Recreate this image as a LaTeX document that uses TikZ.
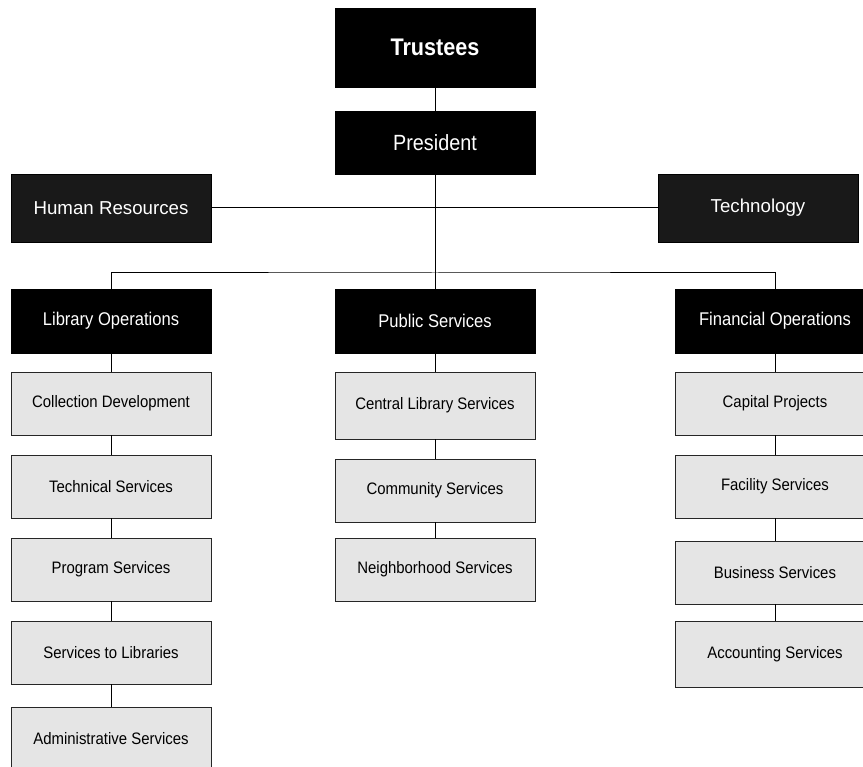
\documentclass[tikz,border=0pt]{standalone}
\usepackage{fontspec}
\setmainfont{Liberation Sans}
\newfontfamily\condfont{Liberation Sans}[FakeStretch=0.9]

\begin{document}
\begin{tikzpicture}[x=1pt, y=-1pt,
  head/.style={draw=black, fill=black, text=white, minimum width=200pt,
    minimum height=64pt, inner sep=0pt, font=\condfont\fontsize{18.4}{21}\selectfont},
  staff/.style={draw=black, fill=black!90, text=white, minimum width=200pt,
    minimum height=68pt, inner sep=0pt, font=\fontsize{18.7}{21}\selectfont},
  unit/.style={draw=black!85, fill=black!10, minimum width=200pt,
    minimum height=63pt, inner sep=0pt, font=\condfont\fontsize{16.6}{19}\selectfont},
  link/.style={line width=1pt}]
 \useasboundingbox (0,0) rectangle (863,767);

 % top of the tree
 \node[head, minimum height=79pt, font=\condfont\fontsize{24}{27}\bfseries\selectfont]
   (trustees) at (435,47.5) {Trustees};
 \node[head, minimum height=63pt, font=\condfont\fontsize{22}{25}\selectfont]
   (president) at (435,142.5) {President};
 \node[staff] (hr) at (111,208) {Human Resources};
 \node[staff] (tech) at (758,208) {Technology};
 \coordinate (bus) at (435,273);

 % divisions
 \node[head] (lib0) at (111,321) {Library Operations};
 \node[head] (pub0) at (435,321) {Public Services};
 \node[head] (fin0) at (775,321) {Financial Operations};

 \foreach \name/\y/\h [count=\i] in {Collection Development/403.5/63,
   Technical Services/486.5/63, Program Services/569.5/63,
   Services to Libraries/652.5/63, Administrative Services/738.5/63}
 {
  \node[unit, minimum height=\h pt] (lib\i) at (111,\y) {\name};
 }
 \foreach \name/\y/\h [count=\i] in {Central Library Services/405.5/67,
   Community Services/490.5/63, Neighborhood Services/569.5/63}
 {
  \node[unit, minimum height=\h pt] (pub\i) at (435,\y) {\name};
 }
 \foreach \name/\y/\h [count=\i] in {Capital Projects/403.5/63,
   Facility Services/486.5/63, Business Services/572.5/63,
   Accounting Services/654/66}
 {
  \node[unit, minimum height=\h pt] (fin\i) at (775,\y) {\name};
 }

 % connectors
 \draw[link] (trustees) -- (president);
 \draw[link] (president) -- (bus);
 \draw[link] (hr) -- (tech);
 \draw[link] (lib0) |- (bus) -| (fin0);
 \draw[link] (bus) -- (pub0);

 \foreach \i [count=\j from 1] in {0,...,4}
  \draw[link] (lib\i) -- (lib\j);
 \foreach \i [count=\j from 1] in {0,...,2}
  \draw[link] (pub\i) -- (pub\j);
 \foreach \i [count=\j from 1] in {0,...,3}
  \draw[link] (fin\i) -- (fin\j);
\end{tikzpicture}
\end{document}
